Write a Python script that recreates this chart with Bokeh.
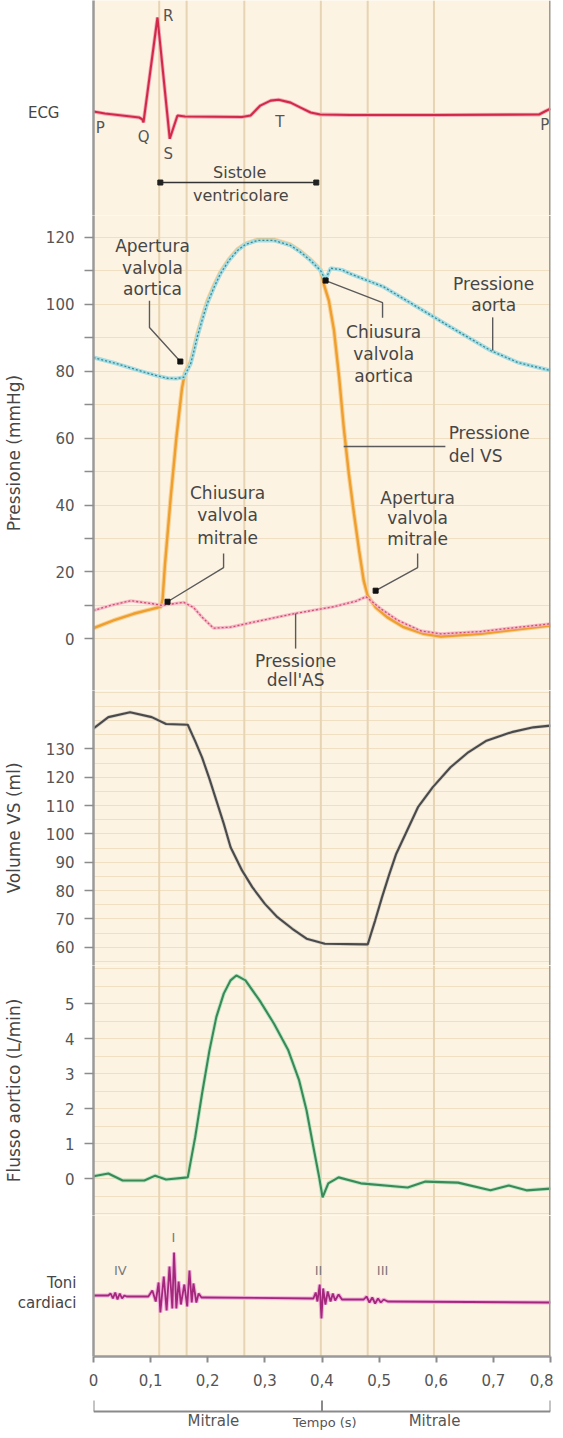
from bokeh.plotting import figure
from bokeh.layouts import column
from bokeh.models import Range1d, FixedTicker, Span
from bokeh.embed import file_html
from bokeh.resources import INLINE
from bokeh.core.properties import value

# ---------------- data ----------------
phase_t = [0.115, 0.163, 0.264, 0.398, 0.48, 0.596]

# ECG (arbitrary units, R = 1)
ecg_t = [0.0, 0.02, 0.05, 0.08, 0.0855, 0.0875, 0.112, 0.1335, 0.147, 0.16, 0.26,
         0.275, 0.292, 0.31, 0.324, 0.345, 0.3625, 0.38, 0.397, 0.45, 0.6, 0.78, 0.79, 0.8]
ecg_v = [0.05, 0.03, 0.01, -0.01, -0.03, -0.06, 1.0, -0.225, 0.01, 0.0, -0.005,
         0.01, 0.11, 0.16, 0.17, 0.14, 0.09, 0.04, 0.02, 0.015, 0.015, 0.02, 0.05, 0.08]
ecg_labels = ["P", "Q", "R", "S", "T", "P"]
ecg_label_t = [0.004, 0.0876, 0.131, 0.131, 0.326, 0.798]
ecg_label_v = [-0.121, -0.212, 1.02, -0.374, -0.06, -0.09]
systole_t = [0.117, 0.39]

# Pressures (mmHg)
ao_t = [0.0, 0.04, 0.08, 0.11, 0.13, 0.145, 0.158, 0.17, 0.176, 0.1815, 0.19, 0.199, 0.211,
        0.222, 0.237, 0.252, 0.266, 0.287, 0.316, 0.345, 0.3625, 0.38, 0.3975, 0.406, 0.415,
        0.435, 0.45, 0.508, 0.555, 0.625, 0.695, 0.743, 0.8]
ao_p = [84.1, 82.3, 80.2, 78.7, 77.9, 77.8, 78.2, 82.2, 86.2, 90.2, 95.2, 100.2, 105.1,
        109.1, 113.1, 116.1, 117.9, 119.1, 119.1, 117.6, 115.6, 113.1, 110.1, 107.3, 110.8,
        110.3, 109.1, 105.2, 100.4, 93.2, 86.2, 82.6, 80.2]
lv_t = [0.0, 0.035, 0.07, 0.1, 0.118, 0.121, 0.125, 0.135, 0.145, 0.155, 0.16, 0.17, 0.176,
        0.1815, 0.19, 0.199, 0.211, 0.222, 0.237, 0.252, 0.266, 0.287, 0.316, 0.345, 0.3625,
        0.38, 0.3975, 0.403, 0.412, 0.421, 0.43, 0.438, 0.447, 0.456, 0.465, 0.473, 0.48,
        0.494, 0.514, 0.543, 0.578, 0.608, 0.678, 0.736, 0.8]
lv_p = [3.2, 5.5, 7.5, 8.8, 9.6, 12.0, 22.0, 42.0, 60.0, 75.0, 79.5, 82.8, 86.8,
        90.8, 95.8, 100.8, 105.6, 109.5, 113.4, 116.4, 118.1, 119.3, 119.3, 117.8, 115.8,
        113.3, 110.3, 106.1, 101.1, 92.2, 78.2, 63.3, 49.3, 37.4, 26.4, 17.4, 12.9,
        9.4, 6.5, 3.5, 1.5, 0.7, 1.5, 2.7, 4.0]
la_t = [0.0, 0.03, 0.065, 0.1, 0.12, 0.14, 0.158, 0.175, 0.19, 0.21, 0.24, 0.28, 0.35, 0.42,
        0.46, 0.477, 0.49, 0.503, 0.532, 0.573, 0.608, 0.678, 0.74, 0.8]
la_p = [8.5, 10.0, 11.4, 10.6, 10.0, 10.5, 10.9, 9.4, 6.5, 3.2, 3.5, 5.0, 7.5, 9.6,
        11.3, 12.6, 10.8, 9.0, 5.6, 2.4, 1.5, 2.2, 3.4, 4.5]
pres_ticks = [0, 20, 40, 60, 80, 100, 120]
pres_minor = [10, 30, 50, 70, 90, 110]

# LV volume (ml)
vol_t = [0.0, 0.026, 0.064, 0.102, 0.127, 0.153, 0.165, 0.1776, 0.19, 0.203, 0.215, 0.228,
         0.24, 0.26, 0.278, 0.3, 0.322, 0.348, 0.373, 0.405, 0.48, 0.493, 0.505, 0.518, 0.53,
         0.549, 0.568, 0.594, 0.625, 0.656, 0.688, 0.732, 0.77, 0.8]
vol_v = [137.2, 141.2, 142.9, 141.2, 138.8, 138.6, 138.5, 132.9, 127.0, 119.4, 111.8, 103.6,
         95.3, 87.1, 81.2, 75.3, 70.6, 66.5, 63.0, 61.2, 61.0, 69.4, 77.6, 85.9, 93.0,
         101.2, 109.4, 116.5, 123.5, 128.8, 132.9, 135.9, 137.6, 138.2]
vol_ticks = [60, 70, 80, 90, 100, 110, 120, 130]

# Aortic flow (L/min)
flow_t = [0.0, 0.026, 0.051, 0.089, 0.108, 0.127, 0.165, 0.178, 0.19, 0.203, 0.215, 0.228,
          0.24, 0.25, 0.266, 0.291, 0.316, 0.341, 0.36, 0.373, 0.385, 0.395, 0.401, 0.411,
          0.429, 0.468, 0.55, 0.581, 0.638, 0.695, 0.727, 0.758, 0.8]
flow_v = [0.07, 0.15, -0.05, -0.05, 0.09, -0.02, 0.04, 1.19, 2.43, 3.67, 4.62, 5.29,
          5.67, 5.81, 5.67, 5.09, 4.43, 3.67, 2.81, 1.95, 0.9, 0.05, -0.53, -0.13,
          0.04, -0.13, -0.25, -0.08, -0.11, -0.33, -0.19, -0.33, -0.28]
flow_ticks = [0, 1, 2, 3, 4, 5]

# Heart sounds (arbitrary amplitude)
snd_t = [0.0, 0.026, 0.03, 0.034, 0.038, 0.042, 0.046, 0.05, 0.054, 0.058, 0.096, 0.103,
         0.109, 0.114, 0.117, 0.123, 0.128, 0.133, 0.138, 0.141, 0.145, 0.149, 0.153, 0.159,
         0.164, 0.168, 0.172, 0.175, 0.18, 0.184, 0.189, 0.195, 0.385, 0.389, 0.392, 0.396,
         0.399, 0.402, 0.406, 0.41, 0.415, 0.419, 0.423, 0.429, 0.435, 0.441, 0.473, 0.478,
         0.483, 0.488, 0.493, 0.498, 0.503, 0.508, 0.515, 0.8]
snd_v = [1, 1, 3, -2, 4, -3, 3, -2, 1, 0, 0, 6,
         -5, 14, -16, 20, -14, 30, -12, 44, -12, 15, -8, 12,
         -10, 26, -6, 13, -6, 3, -1, -1, -2, 4, -5, 12,
         -22, 8, -8, 5, -5, 3, -4, 2, -3, -3, -3, 0,
         -6, -1, -7, -2, -6, -3, -5, -6]
snd_labels = ["IV", "I", "II", "III"]
snd_label_t = [0.047, 0.14, 0.394, 0.506]
snd_label_v = [26, 59, 26, 26]
snd_row_labels = {14: "Toni", -6: "cardiaci"}

x_ticks = [0, 0.1, 0.2, 0.3, 0.4, 0.5, 0.6, 0.7, 0.8]
x_tick_labels = ["0", "0,1", "0,2", "0,3", "0,4", "0,5", "0,6", "0,7", "0,8"]
valve_edges = [0, 0.4, 0.8]
valve_labels = ["Mitrale", "Mitrale"]
valve_label_t = [0.21, 0.597]

# ---------------- style ----------------
FONT = "DejaVu Sans"
CREAM = "#fdf3e2"
GRID = "#f1dfc2"
VLINE = "#e7d4b3"
BORDER = "#9a9a9a"
TICK = "#8c8c8c"
TXT = "#464646"
TICKTXT = "#555555"
LEAD = "#5a5a5a"
ANN = "17px"
ML, MR, FW = 88, 8, 457


def base_fig(h, yr, bottom=0, bg=CREAM):
    p = figure(frame_width=FW, frame_height=h, x_range=Range1d(0, 0.8), y_range=Range1d(*yr),
               output_backend="svg", toolbar_location=None,
               min_border_left=ML, min_border_right=MR, min_border_top=0,
               min_border_bottom=bottom, background_fill_color=bg,
               border_fill_color="white", outline_line_color=None)
    p.xgrid.visible = False
    p.ygrid.visible = False
    p.xaxis.visible = False
    return p


def style_left(p, ticks=None, minor=None, label=None, standoff=19):
    ax = p.yaxis[0]
    ax.ticker = FixedTicker(ticks=ticks or [], minor_ticks=minor or [])
    ax.axis_line_color = BORDER
    ax.axis_line_width = 2.5
    ax.major_tick_line_color = TICK
    ax.major_tick_line_width = 1.5
    ax.major_tick_out = 9
    ax.major_tick_in = 0
    ax.minor_tick_line_color = TICK
    ax.minor_tick_line_width = 1.5
    ax.minor_tick_out = 9
    ax.minor_tick_in = 0
    ax.major_label_text_font = FONT
    ax.major_label_text_font_size = "15px"
    ax.major_label_text_color = TICKTXT
    ax.major_label_standoff = 10
    if label:
        ax.axis_label = label
        ax.axis_label_text_font = FONT
        ax.axis_label_text_font_size = "17px"
        ax.axis_label_text_font_style = "normal"
        ax.axis_label_text_color = TXT
        ax.axis_label_standoff = standoff
    return ax


def row_label_axis(p, labels, standoff):
    ax = style_left(p, list(labels.keys()))
    ax.major_label_overrides = labels
    ax.major_tick_out = 0
    ax.major_tick_line_color = None
    ax.major_label_standoff = standoff
    ax.major_label_text_color = TXT


def add_frame_lines(p):
    for t in phase_t:
        p.add_layout(Span(location=t, dimension="height", line_color=VLINE,
                          line_width=2, level="underlay"))
    p.add_layout(Span(location=0.8, dimension="height", line_color=BORDER, line_width=3))


def add_hgrid(p, ticks):
    p.ygrid.visible = True
    p.ygrid.ticker = FixedTicker(ticks=ticks)
    p.ygrid.grid_line_color = GRID
    p.ygrid.grid_line_width = 1


def texts(p, xs, ys, tx, size=ANN, align="center", color=TXT, baseline="middle"):
    p.text(x=xs, y=ys, text=tx, text_font=value(FONT), text_font_size=size,
           text_align=align, text_baseline=baseline, text_color=color)


# ---------------- panel 1: ECG ----------------
p1 = base_fig(215, (-1.0, 1.1717))
row_label_axis(p1, {0.04: "ECG"}, 34)
add_frame_lines(p1)
p1.line(ecg_t, ecg_v, line_color="#f4aab8", line_width=3.8)
p1.line(ecg_t, ecg_v, line_color="#d12a48", line_width=2.1)
texts(p1, ecg_label_t[1:5], ecg_label_v[1:5], ecg_labels[1:5], size="15px", color="#555555")
texts(p1, ecg_label_t[:1], ecg_label_v[:1], ecg_labels[:1], size="15px", color="#555555",
      align="left")
texts(p1, ecg_label_t[5:], ecg_label_v[5:], ecg_labels[5:], size="15px", color="#555555",
      align="right")
p1.line(systole_t, [-0.667, -0.667], line_color="#333333", line_width=1.5)
p1.scatter(systole_t, [-0.667, -0.667], marker="square", size=5, color="#222222")
texts(p1, [0.256, 0.258], [-0.566, -0.798], ["Sistole", "ventricolare"], size="16px")

# ---------------- panel 2: pressures ----------------
p2 = base_fig(475, (-15.43, 126.55))
style_left(p2, pres_ticks, pres_minor, "Pressione (mmHg)", 19)
add_frame_lines(p2)
add_hgrid(p2, list(range(0, 121, 10)))
p2.line(lv_t, lv_p, line_color="#f8d29a", line_width=4.5)
p2.line(lv_t, lv_p, line_color="#ee9f2e", line_width=2.4)
p2.line(la_t, la_p, line_color="#f4b4c4", line_width=3.2, line_alpha=0.9)
p2.line(la_t, la_p, line_color="#cf4f70", line_width=1.3, line_dash="2 2")
p2.line(ao_t, ao_p, line_color="#a6dce4", line_width=4)
p2.line(ao_t, ao_p, line_color="#3a8b90", line_width=1.3, line_dash="2 2")

leaders = [
    ([0.098, 0.098, 0.152], [101.1, 93.1, 82.9]),
    ([0.2277, 0.2277, 0.1296], [25.5, 21.3, 11.1]),
    ([0.3538, 0.3538], [7.6, -2.9]),
    ([0.506, 0.506, 0.4063], [96.0, 100.5, 107.1]),
    ([0.6988, 0.6988], [96.1, 86.2]),
    ([0.438, 0.616], [57.5, 57.5]),
    ([0.5674, 0.5674, 0.4939], [25.5, 21.3, 14.4]),
]
for xs, ys in leaders:
    p2.line(xs, ys, line_color=LEAD, line_width=1.4)
p2.scatter([0.152, 0.1296, 0.4063, 0.4939], [82.9, 11.1, 107.1, 14.4], marker="square",
           size=5, color="#111111")

texts(p2, [0.1033] * 3, [117.5, 110.9, 104.6], ["Apertura", "valvola", "aortica"])
texts(p2, [0.2347] * 3, [43.5, 36.9, 30.3], ["Chiusura", "valvola", "mitrale"])
texts(p2, [0.3538] * 2, [-6.5, -12.4], ["Pressione", "dell'AS"])
texts(p2, [0.508] * 3, [91.6, 85.3, 78.7], ["Chiusura", "valvola", "aortica"])
texts(p2, [0.7005] * 2, [106.2, 99.7], ["Pressione", "aorta"])
texts(p2, [0.6217] * 2, [61.4, 54.8], ["Pressione", "del VS"], align="left")
texts(p2, [0.5674] * 3, [42.1, 36.1, 29.9], ["Apertura", "valvola", "mitrale"])

# ---------------- panel 3: volume ----------------
p3 = base_fig(275, (53.54, 150.6))
style_left(p3, vol_ticks, None, "Volume VS (ml)", 19)
add_frame_lines(p3)
add_hgrid(p3, list(range(55, 151, 5)))
p3.line(vol_t, vol_v, line_color="#d9d3c8", line_width=3.6)
p3.line(vol_t, vol_v, line_color="#4a4a4a", line_width=2.1)

# ---------------- panel 4: aortic flow ----------------
p4 = base_fig(250, (-1.049, 6.094))
style_left(p4, flow_ticks, None, "Flusso aortico (L/min)", 38)
add_frame_lines(p4)
add_hgrid(p4, [-1, -0.5, 0, 0.5, 1, 1.5, 2, 2.5, 3, 3.5, 4, 4.5, 5, 5.5, 6])
p4.line(flow_t, flow_v, line_color="#bfe6c8", line_width=4)
p4.line(flow_t, flow_v, line_color="#3a8a55", line_width=2.1)

# ---------------- panel 5: heart sounds + time axis ----------------
p5 = base_fig(141, (-60, 81), bottom=38)
row_label_axis(p5, snd_row_labels, 17)
add_frame_lines(p5)
p5.line(snd_t, snd_v, line_color="#f2b0dc", line_width=4)
p5.line(snd_t, snd_v, line_color="#a3287c", line_width=1.8)
texts(p5, snd_label_t, snd_label_v, snd_labels, size="13px", color="#7a7a7a")
xa = p5.xaxis[0]
xa.visible = True
xa.ticker = FixedTicker(ticks=x_ticks)
xa.major_label_overrides = {t: s for t, s in zip(x_ticks, x_tick_labels)}
xa.axis_line_color = BORDER
xa.axis_line_width = 2.5
xa.major_tick_line_color = TICK
xa.major_tick_line_width = 2
xa.major_tick_out = 6
xa.major_tick_in = 0
xa.minor_tick_line_color = None
xa.major_label_text_font = FONT
xa.major_label_text_font_size = "15px"
xa.major_label_text_color = TICKTXT
xa.major_label_standoff = 11

# ---------------- panel 6: valve bracket ----------------
p6 = base_fig(36, (0, 36), bg="white")
p6.yaxis.visible = False
p6.segment(x0=valve_edges, y0=[30] * 3, x1=valve_edges, y1=[19] * 3,
           line_color="#8a8a8a", line_width=2)
p6.line([valve_edges[0], valve_edges[-1]], [19, 19], line_color="#8a8a8a", line_width=2)
texts(p6, valve_label_t, [9.5, 9.5], valve_labels, size="15px", color="#555555")
texts(p6, [0.405], [1.0], ["Tempo (s)"], size="13px", color="#555555", baseline="bottom")

layout = column(p1, p2, p3, p4, p5, p6, spacing=0)
open("out.html", "w").write(file_html(layout, INLINE))
